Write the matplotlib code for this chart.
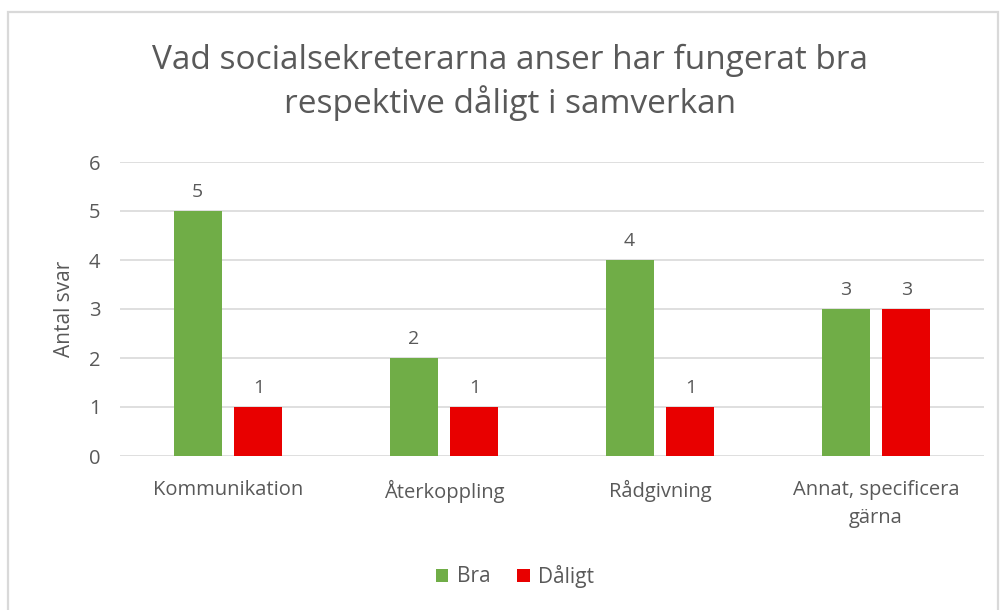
import matplotlib
matplotlib.use("Agg")
import matplotlib.pyplot as plt
import numpy as np
from matplotlib.patches import Rectangle

plt.rcParams["font.family"] = ["Open Sans", "DejaVu Sans"]

categories = ["Kommunikation", "Återkoppling", "Rådgivning", "Annat, specificera\ngärna"]
bra = [5, 2, 4, 3]
daligt = [1, 1, 1, 3]
series_names = ["Bra", "Dåligt"]

_TXT = "#595959"
_GRID = "#d9d9d9"
_GREEN = "#70ad47"
_RED = "#e80000"

fig = plt.figure(figsize=(10.01, 6.10), dpi=100)
fig.patch.set_facecolor("white")

# chart frame
fig.add_artist(Rectangle((8 / 1001, -0.01), (990) / 1001, 1 - 12 / 610 + 0.01,
                         transform=fig.transFigure, fill=False,
                         edgecolor=_GRID, linewidth=1.6))

ax = fig.add_axes([120 / 1001, 154 / 610, 864 / 1001, 294 / 610])
x = np.arange(len(categories))
w = 0.222
off = 0.141
b1 = ax.bar(x - off, bra, w, color=_GREEN, label=series_names[0], zorder=3)
b2 = ax.bar(x + off, daligt, w, color=_RED, label=series_names[1], zorder=3)
for bars in (b1, b2):
    ax.bar_label(bars, padding=7, fontsize=14, color=_TXT)

ax.set_xlim(-0.5, len(categories) - 0.5)
ax.set_ylim(0, 6)
ax.set_yticks(range(0, 7))
ax.yaxis.grid(True, color=_GRID, linewidth=1.2, zorder=0)
ax.set_axisbelow(True)
for s in ax.spines.values():
    s.set_visible(False)
ax.tick_params(axis="both", length=0, colors=_TXT, labelsize=14.5)
ax.tick_params(axis="y", pad=14)
ax.tick_params(axis="x", pad=17)
ax.set_xticks(x)
ax.set_xticklabels(categories, linespacing=1.55)
ax.set_ylabel("Antal svar", fontsize=15, color=_TXT, labelpad=10)

fig.text(510 / 1001, 1 - 82 / 610,
         "Vad socialsekreterarna anser har fungerat bra\nrespektive dåligt i samverkan",
         ha="center", va="center", fontsize=24, color=_TXT, linespacing=1.3)

fig.legend(handles=[b1, b2], loc="center", bbox_to_anchor=(515 / 1001, 1 - 576 / 610),
           ncol=2, frameon=False, fontsize=15, labelcolor=_TXT,
           handlelength=0.6, handleheight=0.6, handletextpad=0.4, columnspacing=1.3)

fig.savefig("out.png", dpi=100)
